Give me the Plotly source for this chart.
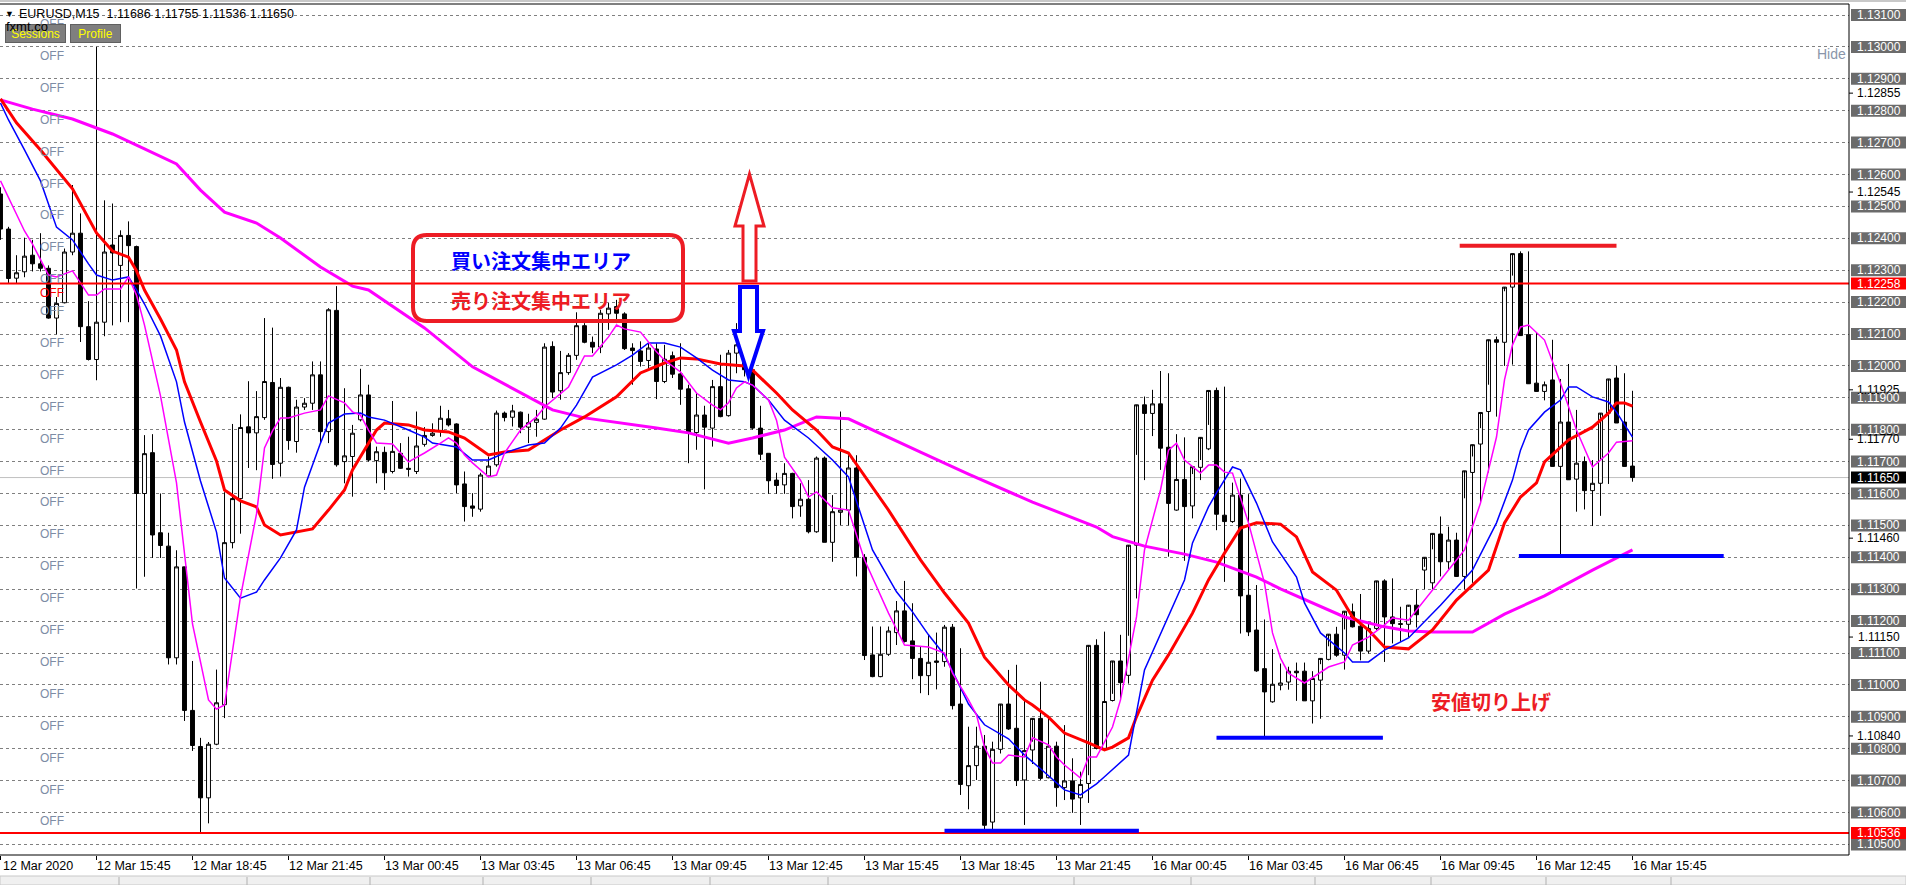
import plotly.graph_objects as go

W, H = 1906, 885
ML, MR, MT, MB = 0, 57, 4, 30
PW, PH = W - ML - MR, H - MT - MB

# ---------------- data ----------------
opens = [1.12539,1.12429,1.12275,1.12295,1.12347,1.1232,1.12306,1.1215,1.12198,1.12357,
         1.12416,1.12123,1.1202,1.12137,1.12379,1.12315,1.12409,1.12374,1.116,1.11728,
         1.11477,1.11435,1.11085,1.1137,1.1092,1.10807,1.10646,1.10814,1.10938,1.11446,
         1.11584,1.11809,1.1179,1.11838,1.11948,1.11695,1.11933,1.11763,1.11871,1.11883,
         1.11972,1.11794,1.12174,1.117,1.11716,1.11831,1.11909,1.11703,1.11729,1.11669,
         1.11726,1.11679,1.11669,1.11754,1.11782,1.11794,1.11834,1.11818,1.1163,1.11561,
         1.11551,1.11655,1.1169,1.11852,1.11839,1.11855,1.11808,1.11823,1.11833,1.12061,
         1.11922,1.11979,1.12033,1.12126,1.12074,1.12059,1.12163,1.12186,1.12163,1.12056,
         1.12047,1.12017,1.12053,1.11951,1.12032,1.11975,1.11928,1.11791,1.11846,1.11805,
         1.11935,1.11844,1.1204,1.12069,1.11988,1.11805,1.11726,1.11642,1.11627,1.11663,
         1.11561,1.11582,1.1148,1.11711,1.11447,1.11541,1.11548,1.1168,1.1140,1.11094,
         1.11026,1.11096,1.11164,1.11232,1.11138,1.11083,1.11029,1.11075,1.11073,1.11181,
         1.1094,1.10684,1.10747,1.10808,1.1057,1.10798,1.1094,1.10864,1.10702,1.10796,
         1.10895,1.10709,1.10808,1.10678,1.10699,1.10646,1.10691,1.11124,1.10801,1.10951,
         1.11075,1.1103,1.11438,1.11878,1.11851,1.11881,1.11745,1.11548,1.11644,1.11561,
         1.11682,1.1174,1.11923,1.11532,1.11512,1.11595,1.11281,1.11172,1.11051,1.10947,
         1.10999,1.11009,1.11043,1.11043,1.1095,1.11015,1.1108,1.11159,1.11093,1.11229,
         1.11184,1.11106,1.11177,1.11326,1.11213,1.11192,1.1119,1.1125,1.1136,1.1132,
         1.11473,1.11386,1.11454,1.1134,1.11666,1.11755,1.11857,1.12082,1.12074,1.12247,
         1.12352,1.12098,1.11946,1.1192,1.11956,1.11685,1.11824,1.11645,1.117,1.11609,
         1.11632,1.11852,1.11962,1.11824,1.11686]
highs = [1.1256,1.12436,1.12347,1.12402,1.12395,1.12416,1.12315,1.12216,1.12368,1.12567,
         1.12478,1.12203,1.13,1.12519,1.12509,1.12425,1.12453,1.12377,1.11783,1.11786,
         1.116,1.11477,1.11422,1.1137,1.11075,1.10834,1.10821,1.11048,1.11604,1.11818,
         1.11848,1.11952,1.11921,1.1215,1.1212,1.11962,1.11935,1.11894,1.11899,1.12014,
         1.12014,1.12181,1.1225,1.1193,1.11815,1.11991,1.11941,1.11747,1.11747,1.1189,
         1.11758,1.11778,1.11857,1.11808,1.1182,1.11875,1.11862,1.1182,1.11669,1.11601,
         1.11665,1.11716,1.1186,1.11857,1.11878,1.11857,1.1185,1.11862,1.12071,1.12077,
         1.12047,1.1204,1.12168,1.12134,1.12092,1.12176,1.12197,1.12207,1.12168,1.12071,
         1.12077,1.12071,1.12071,1.12066,1.12045,1.12071,1.11941,1.11914,1.11875,1.11956,
         1.12035,1.1205,1.12134,1.12071,1.1199,1.11875,1.11726,1.11665,1.11695,1.11665,
         1.11632,1.11642,1.11716,1.11716,1.11595,1.11857,1.1172,1.1172,1.1141,1.11183,
         1.11183,1.11183,1.11263,1.11326,1.11256,1.1112,1.11157,1.11164,1.11188,1.11191,
         1.11115,1.10869,1.10869,1.10843,1.10822,1.10822,1.11047,1.11063,1.10953,1.10822,
         1.1101,1.109,1.10822,1.10874,1.1077,1.10728,1.10717,1.11143,1.11167,1.10972,
         1.11157,1.11154,1.11721,1.11904,1.11925,1.11984,1.11977,1.11786,1.11776,1.11661,
         1.11705,1.11815,1.11932,1.11935,1.11634,1.11647,1.11598,1.11313,1.11205,1.11112,
         1.11067,1.11057,1.1107,1.1107,1.11043,1.11065,1.11121,1.11182,1.11174,1.11255,
         1.11285,1.11198,1.11192,1.11331,1.11334,1.11245,1.11245,1.1130,1.1137,1.11425,
         1.11528,1.11496,1.11477,1.11585,1.11716,1.11805,1.11941,1.12092,1.12234,1.12283,
         1.12359,1.12359,1.12103,1.11951,1.12082,1.11959,1.12006,1.11862,1.11716,1.11705,
         1.11708,1.11854,1.12,1.11977,1.11922,1.11755]
lows = [1.12395,1.1226,1.12257,1.12278,1.12296,1.12296,1.12148,1.12099,1.12196,1.12347,
        1.12075,1.12017,1.11955,1.12093,1.12127,1.12137,1.12137,1.11302,1.11339,1.11398,
        1.11398,1.11064,1.11064,1.10887,1.10793,1.10539,1.10566,1.10811,1.10896,1.11428,
        1.11474,1.1168,1.11673,1.11831,1.11646,1.11653,1.11737,1.11728,1.11862,1.11862,
        1.11758,1.11758,1.11684,1.11632,1.1159,1.11826,1.117,1.11632,1.11611,1.11663,
        1.11677,1.11653,1.11661,1.11747,1.11778,1.11778,1.1181,1.11601,1.11512,1.11527,
        1.11543,1.11651,1.11684,1.11826,1.1181,1.11789,1.11758,1.11778,1.11831,1.11899,
        1.11894,1.11972,1.12019,1.12071,1.1204,1.1204,1.12113,1.12134,1.1205,1.11941,
        1.11998,1.11988,1.11896,1.11946,1.11962,1.11878,1.11695,1.11737,1.11613,1.11747,
        1.11839,1.11841,1.11977,1.11967,1.118,1.11705,1.11599,1.11599,1.11599,1.11522,
        1.11527,1.11475,1.11477,1.11447,1.11386,1.11501,1.1150,1.1134,1.11078,1.11024,
        1.11024,1.11091,1.11125,1.11133,1.11018,1.10974,1.10968,1.10986,1.11057,1.10923,
        1.10655,1.1061,1.10702,1.10536,1.1054,1.10785,1.10859,1.10683,1.10561,1.10752,
        1.10702,1.10707,1.10618,1.10639,1.10599,1.10561,1.1063,1.10798,1.10796,1.10948,
        1.10953,1.11004,1.11271,1.11642,1.1178,1.11674,1.11402,1.11546,1.11389,1.11522,
        1.11642,1.11736,1.11485,1.11323,1.11508,1.11161,1.11153,1.11041,1.10837,1.10944,
        1.10983,1.10985,1.1095,1.1095,1.10879,1.10894,1.11077,1.11088,1.11048,1.1118,
        1.11077,1.11098,1.11172,1.11072,1.1113,1.11135,1.1115,1.1118,1.1130,1.1130,
        1.1134,1.1136,1.1136,1.1130,1.1132,1.11572,1.11666,1.11841,1.12,1.12004,
        1.12176,1.12092,1.11939,1.11892,1.11899,1.11407,1.11674,1.11543,1.1155,1.11498,
        1.1153,1.1163,1.1185,1.11818,1.11637,1.11536]
closes = [1.12429,1.12274,1.12292,1.12344,1.1232,1.12306,1.1215,1.12196,1.12357,1.12416,
          1.12123,1.1202,1.12137,1.12357,1.12354,1.12409,1.12377,1.116,1.11725,1.1147,
          1.11437,1.11085,1.1137,1.1092,1.1081,1.10646,1.10814,1.10944,1.11446,1.11584,
          1.11807,1.1179,1.11841,1.11951,1.11691,1.11933,1.11766,1.11871,1.11883,1.11972,
          1.11794,1.12176,1.1169,1.11718,1.11789,1.11909,1.11705,1.11731,1.11665,1.11732,
          1.11679,1.11676,1.11749,1.11782,1.11789,1.11836,1.11815,1.11627,1.11559,1.11554,
          1.11658,1.11686,1.11852,1.11838,1.11859,1.11808,1.11822,1.11833,1.12059,1.11918,
          1.11979,1.12033,1.12126,1.12074,1.12059,1.12165,1.12181,1.12165,1.12054,1.12048,
          1.12014,1.12056,1.11951,1.12021,1.11974,1.11927,1.11791,1.11846,1.11808,1.11935,
          1.11841,1.1204,1.12066,1.11988,1.11805,1.11723,1.1164,1.11625,1.11663,1.11559,
          1.11582,1.1148,1.11711,1.11447,1.11543,1.11548,1.1168,1.1140,1.11092,1.11026,
          1.11096,1.11169,1.11232,1.11136,1.11083,1.11029,1.11071,1.11071,1.11181,1.10935,
          1.10688,1.10747,1.10808,1.1056,1.10798,1.1094,1.10862,1.107,1.10794,1.10895,
          1.10707,1.10808,1.10678,1.10699,1.10642,1.10688,1.11124,1.10801,1.10948,1.11075,
          1.11007,1.11438,1.11878,1.11851,1.11881,1.11742,1.11569,1.11644,1.11559,1.11684,
          1.11776,1.11923,1.11535,1.11512,1.11595,1.11279,1.11166,1.11044,1.10978,1.11002,
          1.11006,1.11043,1.11038,1.1095,1.1102,1.11083,1.11159,1.11093,1.11231,1.11182,
          1.11106,1.11177,1.11326,1.11213,1.11192,1.1119,1.1125,1.1122,1.1140,1.11475,
          1.11386,1.11454,1.1134,1.11671,1.11753,1.11854,1.12082,1.12074,1.12247,1.12352,
          1.12095,1.11944,1.1192,1.11941,1.11685,1.11824,1.11643,1.11695,1.11609,1.11632,
          1.11852,1.11959,1.11821,1.11685,1.1165]
bars = list(range(len(opens)))

# moving averages: (bar index, price)
ma_slow_bars = [0,4,9,14,18,22,25,28,32,35,40,44,46,53,59,66,69,73,78,82,86,91,94,98,102,106,
                115,121,129,137,139,143,148,152,154,157,160,164,168,173,176,179,184,188,193,199,204]
ma_slow_vals = [1.12834,1.12805,1.12774,1.12727,1.1268,1.12633,1.12551,1.12482,1.12448,1.12401,
                1.1231,1.1225,1.12238,1.12119,1.11997,1.11903,1.11862,1.11837,1.11818,1.11805,
                1.1179,1.11758,1.11774,1.11799,1.1184,1.11834,1.1173,1.11661,1.11573,1.11495,
                1.11465,1.11435,1.1141,1.11385,1.11366,1.11338,1.11301,1.11257,1.11213,1.11182,
                1.11169,1.11166,1.11166,1.11222,1.11279,1.1136,1.11423]
ma_red_bars = [0,2,5,9,12,14,16,17,18,20,22,23,25,27,28,30,32,33,35,39,41,43,44,46,47,48,51,53,
               56,58,61,63,66,68,70,73,77,80,83,85,87,90,93,94,97,99,102,104,106,111,115,118,121,
               123,126,128,129,131,133,136,138,139,141,142,144,146,149,151,153,155,157,160,162,
               164,167,169,171,173,176,179,182,186,188,190,192,193,196,199,201,202,203,204]
ma_red_vals = [1.12837,1.12762,1.12677,1.12555,1.12417,1.1236,1.12341,1.12298,1.12238,1.12147,
               1.1205,1.1195,1.11824,1.11702,1.11611,1.11577,1.11558,1.11501,1.1147,1.11489,
               1.11548,1.11611,1.11674,1.11758,1.11799,1.11821,1.11815,1.11799,1.11793,1.11774,
               1.11721,1.1173,1.11736,1.11768,1.11799,1.1184,1.11903,1.11978,1.12009,1.12025,
               1.12022,1.12006,1.12,1.11987,1.11915,1.11862,1.11799,1.11746,1.11727,1.11548,
               1.11392,1.11288,1.11194,1.11087,1.11,1.10953,1.10937,1.10899,1.10849,1.10818,
               1.10796,1.10805,1.10834,1.1090,1.11015,1.11094,1.11225,1.11329,1.11413,1.11492,
               1.11508,1.11504,1.11464,1.11354,1.11297,1.11213,1.11172,1.11119,1.11113,1.11172,
               1.11266,1.1136,1.11508,1.11589,1.11633,1.11699,1.11768,1.11808,1.11852,1.11884,
               1.11884,1.11874]
ma_blue_bars = [0,1,3,5,7,9,11,12,14,16,17,18,20,22,23,25,27,28,30,32,33,35,37,38,40,41,43,45,46,
                48,51,53,54,57,59,61,63,66,68,70,72,74,77,79,81,83,85,87,89,91,93,94,96,98,101,
                103,104,106,109,112,114,116,118,121,123,126,128,130,133,135,137,138,141,143,146,
                148,149,151,152,154,155,157,159,162,163,165,168,169,171,173,176,180,184,187,189,
                190,191,193,195,196,197,199,201,202,204]
ma_blue_vals = [1.12824,1.12771,1.12677,1.1258,1.12435,1.12395,1.1232,1.12285,1.12269,1.12279,
                1.12238,1.12194,1.12094,1.1195,1.11824,1.11639,1.11479,1.11335,1.11272,1.11291,
                1.11329,1.11398,1.11486,1.1162,1.11758,1.11821,1.11849,1.11852,1.1184,1.1183,
                1.11799,1.11777,1.11758,1.11746,1.11705,1.11705,1.11727,1.11752,1.11758,1.11805,
                1.11877,1.11965,1.12003,1.12034,1.12072,1.12072,1.12059,1.12025,1.11987,1.11956,
                1.1195,1.1194,1.11893,1.1183,1.11774,1.11727,1.11705,1.11652,1.11423,1.11292,
                1.11229,1.11157,1.11094,1.1094,1.10875,1.10831,1.1078,1.10737,1.10671,1.10655,
                1.1069,1.10712,1.1078,1.11047,1.11213,1.11329,1.11445,1.11558,1.11602,1.11683,
                1.11674,1.1157,1.11448,1.11338,1.11257,1.11163,1.111,1.11072,1.11072,1.11109,
                1.11147,1.1125,1.1136,1.11508,1.11642,1.11736,1.11799,1.11855,1.11893,1.11934,
                1.11934,1.11903,1.11887,1.11855,1.11777]
ma_fast_bars = [0,3,4,6,7,9,11,12,13,15,16,17,18,20,22,23,24,26,27,28,29,30,32,33,34,35,36,38,
                40,41,43,44,45,46,47,49,51,53,55,56,57,58,59,61,62,63,65,67,68,69,71,73,74,76,
                77,78,80,82,83,85,87,89,90,91,92,93,94,96,97,98,100,101,102,104,106,108,111,113,
                116,118,119,121,122,123,124,125,126,128,129,131,132,133,135,136,137,139,140,142,
                143,145,146,147,148,150,151,152,153,154,155,156,158,159,160,161,163,164,166,168,
                169,171,173,174,176,181,183,185,187,188,189,190,191,193,195,197,199,201,202,204]
ma_fast_vals = [1.1258,1.12423,1.12382,1.12285,1.12279,1.12298,1.12222,1.12222,1.12241,1.12241,
                1.12279,1.12222,1.12128,1.11906,1.11633,1.11414,1.11191,1.10953,1.10924,1.10937,
                1.11109,1.11276,1.11536,1.11743,1.11796,1.11837,1.11837,1.11852,1.11862,1.11906,
                1.11884,1.11856,1.11846,1.11799,1.11758,1.11755,1.11699,1.11727,1.11758,1.11774,
                1.11758,1.11721,1.11696,1.11652,1.11658,1.11727,1.11799,1.1184,1.11871,1.11893,
                1.11934,1.12031,1.12031,1.12091,1.12128,1.12116,1.12106,1.12044,1.12018,1.11981,
                1.11915,1.11877,1.11862,1.11884,1.11931,1.1195,1.1194,1.11893,1.1183,1.11714,
                1.11642,1.11589,1.11605,1.11555,1.11548,1.11392,1.11225,1.11125,1.11119,1.111,
                1.11037,1.10953,1.10906,1.10805,1.10755,1.10755,1.1078,1.10774,1.10834,1.10812,
                1.10774,1.10749,1.10708,1.10774,1.10774,1.10868,1.10953,1.11213,1.11423,1.11611,
                1.11736,1.11758,1.11705,1.11664,1.11689,1.11689,1.11667,1.11664,1.11589,1.11508,
                1.11319,1.11163,1.11084,1.11037,1.11006,1.11022,1.11056,1.11072,1.11125,1.1115,
                1.11188,1.1121,1.11203,1.1136,1.11423,1.1157,1.11777,1.11956,1.12066,1.12122,
                1.12128,1.12081,1.11946,1.11799,1.11683,1.11727,1.11761,1.11765]

tick_bars = [12, 24, 36, 48, 60, 72, 84, 96, 108, 120, 132, 144, 156, 168, 180, 192, 204]
tick_labels = ["12 Mar 15:45", "12 Mar 18:45", "12 Mar 21:45", "13 Mar 00:45", "13 Mar 03:45",
               "13 Mar 06:45", "13 Mar 09:45", "13 Mar 12:45", "13 Mar 15:45", "13 Mar 18:45",
               "13 Mar 21:45", "16 Mar 00:45", "16 Mar 03:45", "16 Mar 06:45", "16 Mar 09:45",
               "16 Mar 12:45", "16 Mar 15:45"]
first_label = "12 Mar 2020"

grid_prices = [round(1.105 + 0.001 * k, 3) for k in range(27)]
box_labels = [1.131, 1.130, 1.129, 1.128, 1.127, 1.126, 1.125, 1.124, 1.123, 1.122, 1.121, 1.120,
              1.119, 1.118, 1.117, 1.116, 1.115, 1.114, 1.113, 1.112, 1.111, 1.110, 1.109, 1.108,
              1.107, 1.106, 1.105]
plain_labels = [1.12855, 1.12545, 1.11925, 1.11770, 1.11460, 1.11150, 1.10840]
level_red = [1.12258, 1.10536]
level_last = 1.11650
header = "EURUSD,M15  1.11686 1.11755 1.11536 1.11650"

seg_red_top = (182.4, 202.0, 1.12377)
seg_blue = [(118.0, 142.3, 1.10543), (152.0, 172.8, 1.10834), (189.8, 215.4, 1.11404)]

# ---------------- helpers ----------------
XMIN = -0.0625
XMAX = (PW - 0.5) / 8.0
P_TOP = 1.131 + (15 - MT) / 31900.0
P_BOT = 1.131 - (MT + PH - 15) / 31900.0

def fx(px):
    return (px - ML) / PW

def fy(py):
    return (MT + PH - py) / PH

def py_of(p):
    return 15 + (1.131 - p) * 31900.0

fig = go.Figure()

fig.add_trace(go.Candlestick(
    x=bars, open=opens, high=highs, low=lows, close=closes,
    increasing=dict(line=dict(color="black", width=1), fillcolor="white"),
    decreasing=dict(line=dict(color="black", width=1), fillcolor="black"),
    whiskerwidth=0, showlegend=False, hoverinfo="skip"))

fig.add_trace(go.Scatter(x=ma_slow_bars, y=ma_slow_vals, mode="lines",
                         line=dict(color="#ff00ff", width=3), showlegend=False, hoverinfo="skip"))
fig.add_trace(go.Scatter(x=ma_red_bars, y=ma_red_vals, mode="lines",
                         line=dict(color="#ff0000", width=3), showlegend=False, hoverinfo="skip"))
fig.add_trace(go.Scatter(x=ma_blue_bars, y=ma_blue_vals, mode="lines",
                         line=dict(color="#0000ff", width=1.5), showlegend=False, hoverinfo="skip"))
fig.add_trace(go.Scatter(x=ma_fast_bars, y=ma_fast_vals, mode="lines",
                         line=dict(color="#ff00ff", width=1.5), showlegend=False, hoverinfo="skip"))

shapes = []
shapes.append(dict(type="line", xref="paper", yref="y", x0=0, x1=1, y0=level_last, y1=level_last,
                   line=dict(color="#c0c0c0", width=1), layer="below"))
for lv in level_red:
    shapes.append(dict(type="line", xref="paper", yref="y", x0=0, x1=1, y0=lv, y1=lv,
                       line=dict(color="#ff0000", width=2)))
shapes.append(dict(type="line", xref="x", yref="y", x0=seg_red_top[0], x1=seg_red_top[1],
                   y0=seg_red_top[2], y1=seg_red_top[2], line=dict(color="#ed1c24", width=4)))
for a, b, p in seg_blue:
    shapes.append(dict(type="line", xref="x", yref="y", x0=a, x1=b, y0=p, y1=p,
                       line=dict(color="#0000ff", width=4)))

def rrect(x0, y0, x1, y1, r):
    X = lambda v: f"{fx(v):.5f}"
    Y = lambda v: f"{fy(v):.5f}"
    return (f"M {X(x0+r)},{Y(y0)} L {X(x1-r)},{Y(y0)} Q {X(x1)},{Y(y0)} {X(x1)},{Y(y0+r)} "
            f"L {X(x1)},{Y(y1-r)} Q {X(x1)},{Y(y1)} {X(x1-r)},{Y(y1)} L {X(x0+r)},{Y(y1)} "
            f"Q {X(x0)},{Y(y1)} {X(x0)},{Y(y1-r)} L {X(x0)},{Y(y0+r)} Q {X(x0)},{Y(y0)} {X(x0+r)},{Y(y0)} Z")

shapes.append(dict(type="path", xref="paper", yref="paper", path=rrect(413, 235, 683, 321, 14),
                   line=dict(color="#ed1c24", width=4)))

def poly(pts):
    return "M " + " L ".join(f"{fx(a):.5f},{fy(b):.5f}" for a, b in pts) + " Z"

up_arrow = [(743, 281), (743, 226), (735, 226), (749.5, 174), (764, 226), (756, 226), (756, 281)]
shapes.append(dict(type="path", xref="paper", yref="paper", path=poly(up_arrow),
                   fillcolor="white", line=dict(color="#ed1c24", width=3)))
dn_arrow = [(740, 287), (740, 331), (734, 331), (748.5, 376), (763, 331), (757, 331), (757, 287)]
shapes.append(dict(type="path", xref="paper", yref="paper", path=poly(dn_arrow),
                   fillcolor="white", line=dict(color="#0000ff", width=4)))

shapes.append(dict(type="line", xref="paper", yref="paper", x0=0, x1=1, y0=1, y1=1,
                   line=dict(color="black", width=1)))
shapes.append(dict(type="line", xref="paper", yref="paper", x0=1, x1=1, y0=0, y1=1,
                   line=dict(color="black", width=1)))
shapes.append(dict(type="line", xref="paper", yref="paper", x0=0, x1=1, y0=0, y1=0,
                   line=dict(color="black", width=1)))
shapes.append(dict(type="rect", xref="paper", yref="paper", x0=fx(0), x1=fx(W), y0=fy(0), y1=fy(2),
                   fillcolor="#c8c8c8", line=dict(width=0)))
shapes.append(dict(type="rect", xref="paper", yref="paper", x0=fx(0), x1=fx(W), y0=fy(885), y1=fy(876),
                   fillcolor="#f0f0f0", line=dict(color="#c8c8c8", width=1)))
for tx in [119, 247, 370, 483, 591, 710, 828, 1074, 1191, 1315, 1431, 1546, 1671]:
    shapes.append(dict(type="line", xref="paper", yref="paper", x0=fx(tx), x1=fx(tx),
                       y0=fy(885), y1=fy(877), line=dict(color="#b0b0b0", width=1)))
for p in plain_labels:
    shapes.append(dict(type="line", xref="paper", yref="y", x0=fx(1849), x1=fx(1853), y0=p, y1=p,
                       line=dict(color="black", width=1)))

def price_box(p, color):
    c = py_of(p)
    shapes.append(dict(type="rect", xref="paper", yref="paper", x0=fx(1851), x1=fx(1906),
                       y0=fy(c + 6), y1=fy(c - 6), fillcolor=color, line=dict(width=0)))

for p in box_labels:
    price_box(p, "#6b6b6b")
for p in level_red:
    price_box(p, "#ff0000")
price_box(level_last, "#000000")

ann = []
FONT = "Liberation Sans, Arial, sans-serif"
for gp in grid_prices[1:]:
    ann.append(dict(text="OFF", xref="paper", yref="paper", x=fx(52), y=fy(py_of(gp) + 9),
                    showarrow=False, font=dict(family=FONT, size=12, color="#7d8ca5"),
                    xanchor="center", yanchor="middle"))
ann.append(dict(text="OFF", xref="paper", yref="paper", x=fx(52), y=fy(py_of(level_red[0]) + 9),
                showarrow=False, font=dict(family=FONT, size=12, color="#ff0000"),
                xanchor="center", yanchor="middle"))

for p in plain_labels:
    ann.append(dict(text=f"{p:.5f}", xref="paper", yref="y", x=fx(1878.5), y=p, showarrow=False,
                    font=dict(family=FONT, size=12, color="black"), xanchor="center",
                    yanchor="middle"))
for p in box_labels + level_red + [level_last]:
    ann.append(dict(text=f"{p:.5f}", xref="paper", yref="y", x=fx(1878.5), y=p, showarrow=False,
                    font=dict(family=FONT, size=12, color="white"),
                    xanchor="center", yanchor="middle"))

ann.append(dict(text=first_label, xref="paper", yref="paper", x=fx(1), y=fy(866), showarrow=False,
                font=dict(family=FONT, size=12.5, color="black"), xanchor="left", yanchor="middle"))
for b, lab in zip(tick_bars, tick_labels):
    ann.append(dict(text=lab, xref="x", yref="paper", x=b, y=fy(866), showarrow=False,
                    font=dict(family=FONT, size=12.5, color="black"), xanchor="left",
                    yanchor="middle", xshift=-2))

ann.append(dict(text="▼", xref="paper", yref="paper", x=fx(3), y=fy(14), showarrow=False,
                font=dict(family=FONT, size=9, color="black"), xanchor="left", yanchor="middle"))
ann.append(dict(text=header, xref="paper", yref="paper", x=fx(17), y=fy(14), showarrow=False,
                font=dict(family=FONT, size=12.5, color="black"), xanchor="left", yanchor="middle"))
ann.append(dict(text="Sessions", xref="paper", yref="paper", x=fx(5), y=fy(33), showarrow=False,
                font=dict(family=FONT, size=12, color="#ffff00"), bgcolor="#7f7f7f",
                bordercolor="#606060", borderwidth=1, width=57, height=15,
                xanchor="left", yanchor="middle"))
ann.append(dict(text="Profile", xref="paper", yref="paper", x=fx(70), y=fy(33), showarrow=False,
                font=dict(family=FONT, size=12, color="#ffff00"), bgcolor="#7f7f7f",
                bordercolor="#606060", borderwidth=1, width=47, height=15,
                xanchor="left", yanchor="middle"))
ann.append(dict(text="fxmt.co", xref="paper", yref="paper", x=fx(4), y=fy(27), showarrow=False,
                font=dict(family=FONT, size=13, color="black"), xanchor="left", yanchor="middle"))
ann.append(dict(text="Hide", xref="paper", yref="paper", x=fx(1848), y=fy(54), showarrow=False,
                font=dict(family=FONT, size=14, color="#8a96aa"), xanchor="right", yanchor="middle"))

JP = "Noto Sans CJK JP, sans-serif"
ann.append(dict(text="<b>買い注文集中エリア</b>", xref="paper", yref="paper", x=fx(541), y=fy(260),
                showarrow=False, font=dict(family=JP, size=20, color="#0000ff"),
                xanchor="center", yanchor="middle"))
ann.append(dict(text="<b>売り注文集中エリア</b>", xref="paper", yref="paper", x=fx(541), y=fy(300),
                showarrow=False, font=dict(family=JP, size=20, color="#ed1c24"),
                xanchor="center", yanchor="middle"))
ann.append(dict(text="<b>安値切り上げ</b>", xref="paper", yref="paper", x=fx(1491), y=fy(701),
                showarrow=False, font=dict(family=JP, size=20, color="#ed1c24"),
                xanchor="center", yanchor="middle"))

fig.update_layout(
    width=W, height=H, margin=dict(l=ML, r=MR, t=MT, b=MB, pad=0),
    paper_bgcolor="white", plot_bgcolor="white", showlegend=False,
    shapes=shapes, annotations=ann,
    xaxis=dict(range=[XMIN, XMAX], rangeslider=dict(visible=False), showgrid=False, zeroline=False,
               tickmode="array", tickvals=[0] + tick_bars, ticktext=[""] * (len(tick_bars) + 1),
               ticks="outside", ticklen=4, tickcolor="black", showline=False, fixedrange=True),
    yaxis=dict(range=[P_BOT, P_TOP], side="right", showgrid=True, gridcolor="#808080", gridwidth=1,
               griddash="3px,3px", tickmode="array", tickvals=grid_prices,
               ticktext=[""] * len(grid_prices), ticks="", zeroline=False, showline=False,
               fixedrange=True),
)

fig.write_html("out.html", config={"displayModeBar": False},
               post_script="document.body.style.margin='0';document.body.style.overflow='hidden';")
